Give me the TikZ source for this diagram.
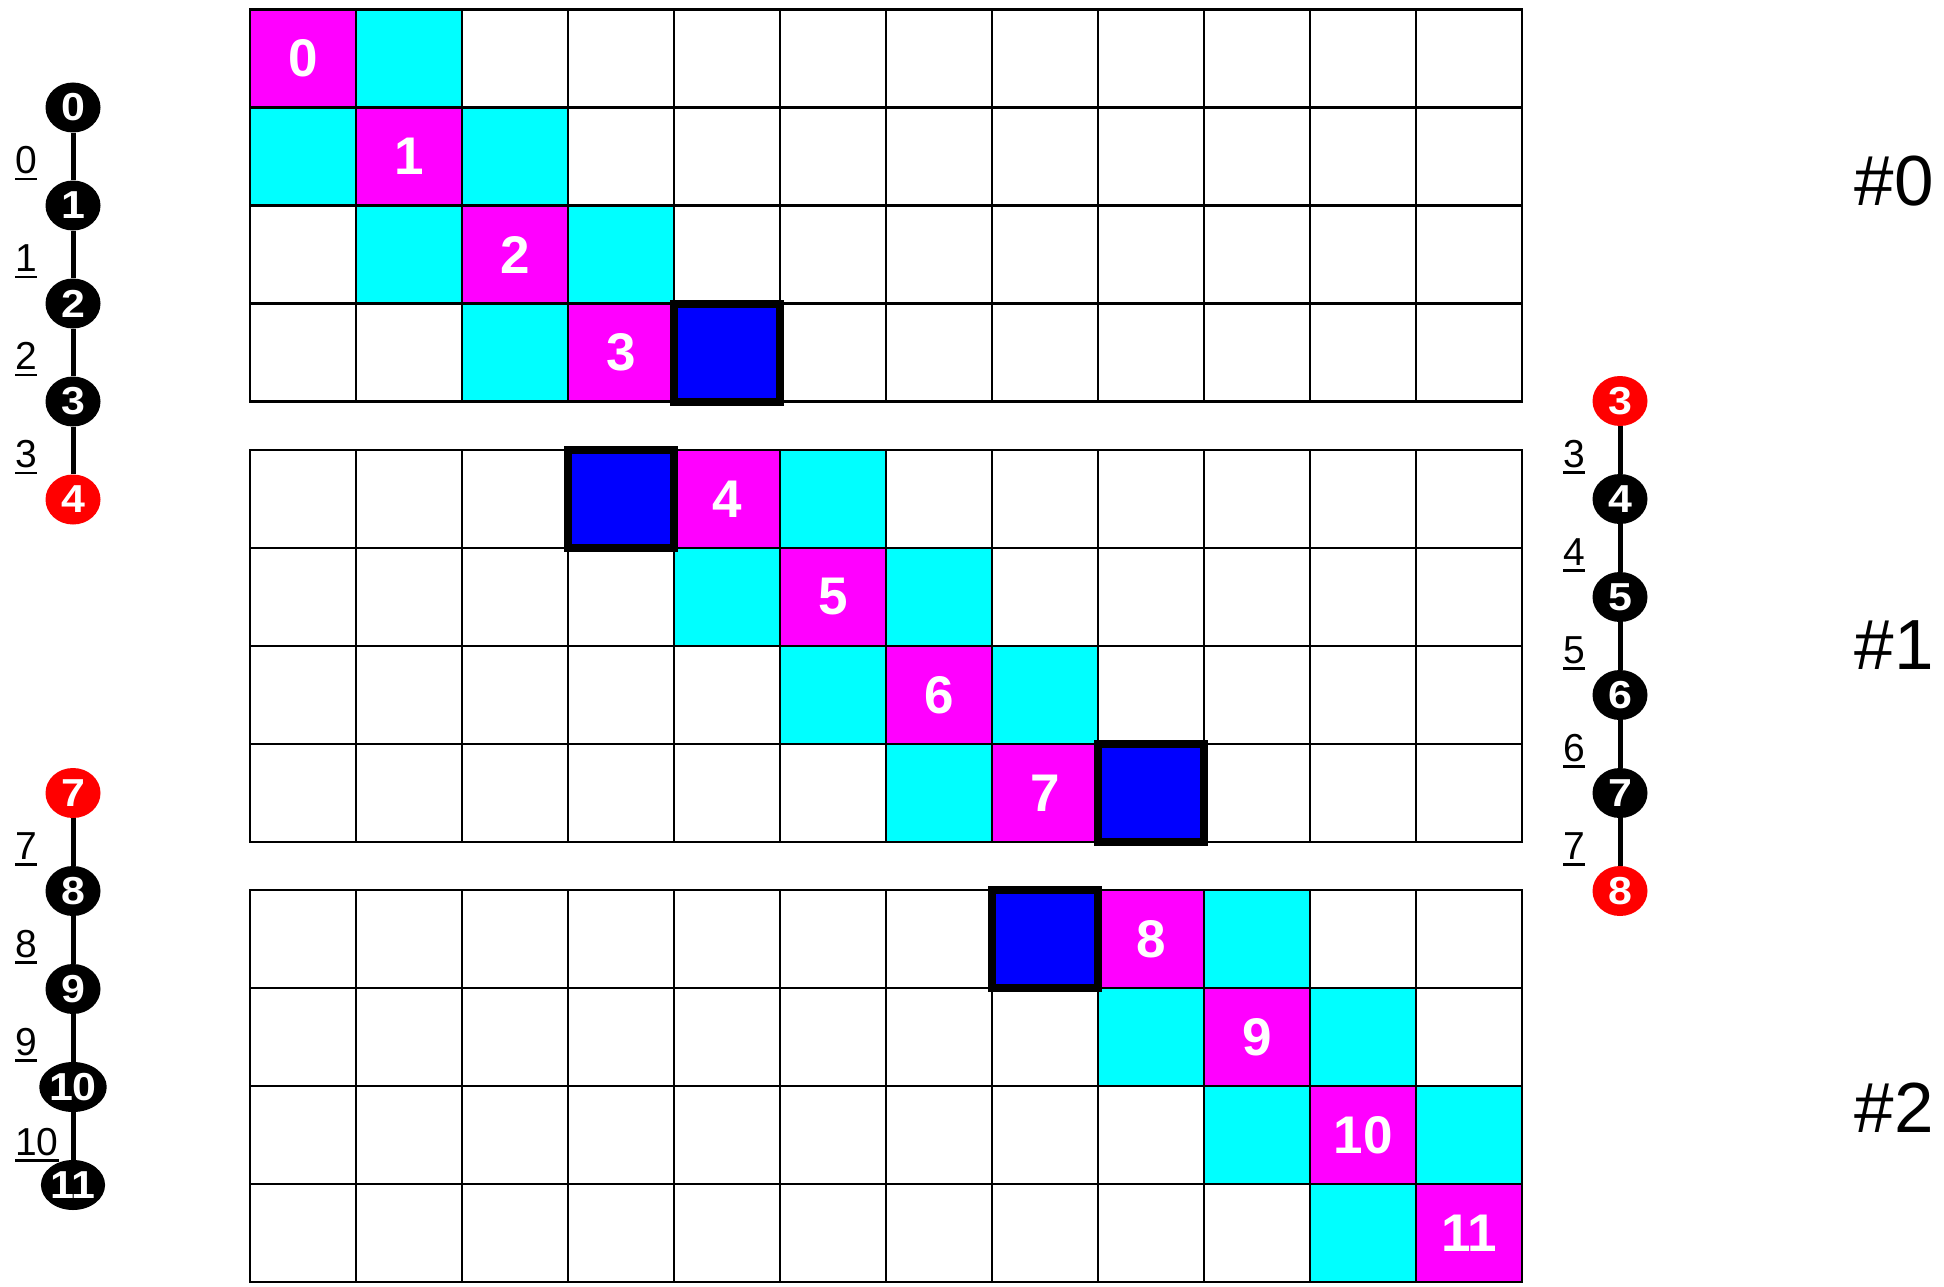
\documentclass[tikz,border=0pt]{standalone}
\usepackage{fontspec}
\usepackage{graphicx}
\setmainfont{Liberation Sans}
\usetikzlibrary{shapes.geometric}
\definecolor{mag}{RGB}{255,0,255}
\definecolor{cya}{RGB}{0,255,255}
\definecolor{blu}{RGB}{0,0,255}
\definecolor{redn}{RGB}{255,0,0}
\newcommand\ulnum[1]{\vtop{\hbox{#1}\kern4pt\hrule height 2.6pt}}
\newcommand\vtxt[1]{\scalebox{1.1}[1]{#1}}
\begin{document}
\begin{tikzpicture}[x=1pt,y=-1pt,
  vtx/.style={ellipse, fill=black, text=white, inner sep=0pt, minimum width=55pt, minimum height=50pt, font=\fontsize{39}{39}\selectfont\bfseries},
  ghost/.style={vtx, fill=redn},
  edge/.style={line width=5pt},
  elab/.style={anchor=base west, inner sep=0pt, font=\fontsize{39}{39}\selectfont},
  cellnum/.style={text=white, inner sep=0pt, font=\fontsize{53}{53}\selectfont\bfseries},
  gridline/.style={line width=2.2pt},
  halo/.style={line width=8pt, fill=blu, draw=black},
  part/.style={inner sep=0pt, font=\fontsize{71}{71}\selectfont}
]
\useasboundingbox (0,0) rectangle (1944,1287);
% magenta cells
\foreach \c/\t in {0/9.5,1/107.5,2/205.5,3/303.5,4/450,5/548,6/646,7/744,8/890,9/988,10/1086,11/1184}
  \fill[mag] (250+\c*106,\t) rectangle +(106,98);
% cyan cells
\foreach \c/\t in {1/9.5,0/107.5,2/107.5,1/205.5,3/205.5,2/303.5,
                   5/450,4/548,6/548,5/646,7/646,6/744,
                   9/890,8/988,10/988,9/1086,11/1086,10/1184}
  \fill[cya] (250+\c*106,\t) rectangle +(106,98);
% grid
\foreach \t in {9.5,450,890}{
  \foreach \c in {1,...,11} \draw[gridline] (250+\c*106,\t) -- (250+\c*106,\t+392);
  \foreach \r in {1,2,3} \draw[gridline] (250,\t+\r*98) -- (1522,\t+\r*98);
  \draw[gridline] (250,\t) rectangle (1522,\t+392);
}
% blue (external) cells
\foreach \c/\t in {4/303.5,3/450,8/744,7/890}
  \filldraw[halo] (250+\c*106,\t) rectangle +(106,98);
% cell numbers
\node[cellnum] (c0) at (303,58.5) {0};
\node[cellnum] (c1) at (409,156.5) {1};
\node[cellnum] (c2) at (515,254.5) {2};
\node[cellnum] (c3) at (621,352.5) {3};
\node[cellnum] (c4) at (727,499) {4};
\node[cellnum] (c5) at (833,597) {5};
\node[cellnum] (c6) at (939,695) {6};
\node[cellnum] (c7) at (1045,793) {7};
\node[cellnum] (c8) at (1151,939) {8};
\node[cellnum] (c9) at (1257,1037) {9};
\node[cellnum] (c10) at (1363,1135) {10};
\node[cellnum] (c11) at (1469,1233) {11};
% left top chain
\node[vtx] (L0) at (73,107.5) {\vtxt{0}};
\node[vtx] (L1) at (73,205.5) {\vtxt{1}};
\node[vtx] (L2) at (73,303.5) {\vtxt{2}};
\node[vtx] (L3) at (73,401.5) {\vtxt{3}};
\node[ghost] (L4) at (73,499.5) {\vtxt{4}};
\draw[edge] (L0) -- (L1);
\draw[edge] (L1) -- (L2);
\draw[edge] (L2) -- (L3);
\draw[edge] (L3) -- (L4);
\node[elab] (la0) at (15,173.5) {\ulnum{0}};
\node[elab] (la1) at (15,271.5) {\ulnum{1}};
\node[elab] (la2) at (15,369.5) {\ulnum{2}};
\node[elab] (la3) at (15,467.5) {\ulnum{3}};
% left bottom chain
\node[ghost] (B7) at (73,793) {\vtxt{7}};
\node[vtx] (B8) at (73,891) {\vtxt{8}};
\node[vtx] (B9) at (73,989) {\vtxt{9}};
\node[vtx] (B10) at (73,1087) {\vtxt{10}};
\node[vtx] (B11) at (73,1185) {\vtxt{11}};
\draw[edge] (B7) -- (B8);
\draw[edge] (B8) -- (B9);
\draw[edge] (B9) -- (B10);
\draw[edge] (B10) -- (B11);
\node[elab] (lb7) at (15,859) {\ulnum{7}};
\node[elab] (lb8) at (15,957) {\ulnum{8}};
\node[elab] (lb9) at (15,1055) {\ulnum{9}};
\node[elab] (lb10) at (15,1155) {\ulnum{10}};
% right chain
\node[ghost] (R3) at (1620,401) {\vtxt{3}};
\node[vtx] (R4) at (1620,499) {\vtxt{4}};
\node[vtx] (R5) at (1620,597) {\vtxt{5}};
\node[vtx] (R6) at (1620,695) {\vtxt{6}};
\node[vtx] (R7) at (1620,793) {\vtxt{7}};
\node[ghost] (R8) at (1620,891) {\vtxt{8}};
\draw[edge] (R3) -- (R4);
\draw[edge] (R4) -- (R5);
\draw[edge] (R5) -- (R6);
\draw[edge] (R6) -- (R7);
\draw[edge] (R7) -- (R8);
\node[elab] (lr3) at (1563,467) {\ulnum{3}};
\node[elab] (lr4) at (1563,565) {\ulnum{4}};
\node[elab] (lr5) at (1563,663) {\ulnum{5}};
\node[elab] (lr6) at (1563,761) {\ulnum{6}};
\node[elab] (lr7) at (1563,859) {\ulnum{7}};
% partition labels
\node[part] (p0) at (1894,181) {\#0};
\node[part] (p1) at (1894,645) {\#1};
\node[part] (p2) at (1894,1108) {\#2};
\end{tikzpicture}
\end{document}
